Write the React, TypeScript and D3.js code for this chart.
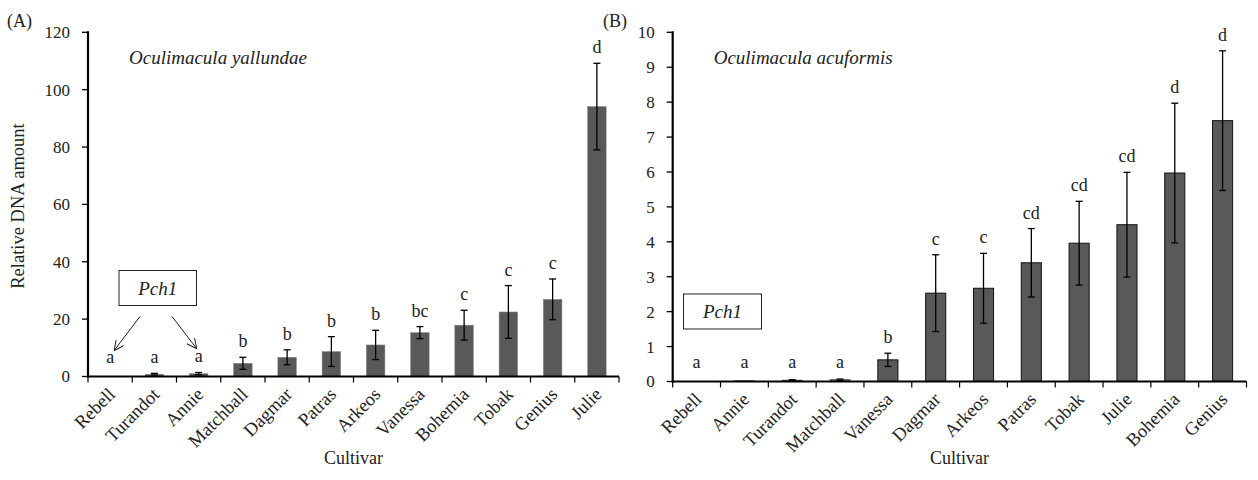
import React from "react";
import * as d3 from "d3";

// Panel A: Oculimacula yallundae
const cultivarsA = ["Rebell", "Turandot", "Annie", "Matchball", "Dagmar", "Patras", "Arkeos", "Vanessa", "Bohemia", "Tobak", "Genius", "Julie"];
const valuesA = [0, 0.8, 1.0, 4.6, 6.7, 8.7, 11.0, 15.3, 17.9, 22.5, 26.9, 94.1];
const errorsA = [0, 0.3, 0.4, 2.1, 2.6, 5.2, 5.1, 2.1, 5.2, 9.2, 7.1, 15.1];
const lettersA = ["a", "a", "a", "b", "b", "b", "b", "bc", "c", "c", "c", "d"];
const ticksA = [0, 20, 40, 60, 80, 100, 120];

// Panel B: Oculimacula acuformis
const cultivarsB = ["Rebell", "Annie", "Turandot", "Matchball", "Vanessa", "Dagmar", "Arkeos", "Patras", "Tobak", "Julie", "Bohemia", "Genius"];
const valuesB = [0, 0.02, 0.04, 0.05, 0.62, 2.53, 2.67, 3.4, 3.96, 4.49, 5.97, 7.47];
const errorsB = [0, 0, 0.01, 0.02, 0.19, 1.1, 1.0, 0.98, 1.2, 1.5, 2.0, 2.0];
const lettersB = ["a", "a", "a", "a", "b", "c", "c", "cd", "cd", "cd", "d", "d"];
const ticksB = [0, 1, 2, 3, 4, 5, 6, 7, 8, 9, 10];

const FONT = "Liberation Serif, DejaVu Serif, serif";
const BAR = "#595959";

type PanelProps = {
  cats: string[];
  vals: number[];
  errs: number[];
  letters: string[];
  ticks: number[];
  x0: number;
  x1: number;
  yTop: number;
  yBot: number;
  tag: string;
  tagX: number;
  title: string;
  outline: boolean;
  box: { x: number; y: number; w: number; h: number };
  arrows?: boolean;
};

const Panel = (p: PanelProps) => {
  const x = d3.scaleBand().domain(p.cats).range([p.x0, p.x1]).paddingInner(0.58).paddingOuter(0.29);
  const y = d3
    .scaleLinear()
    .domain([0, d3.max(p.ticks) as number])
    .range([p.yBot, p.yTop]);
  const step = x.step();
  const cx = (c: string) => (x(c) as number) + x.bandwidth() / 2;

  return (
    <g fill="#222">
      <text x={p.tagX} y={27} fontSize={18}>{p.tag}</text>

      {/* y ticks */}
      {p.ticks.map((t) => (
        <g key={t}>
          <line x1={p.x0 - 6} x2={p.x0} y1={y(t)} y2={y(t)} stroke="#000" strokeWidth={1.3} />
          <text x={p.x0 - 18} y={y(t)} dy="0.35em" textAnchor="end" fontSize={17}>{t}</text>
        </g>
      ))}

      {/* x ticks */}
      {d3.range(p.cats.length + 1).map((i) => (
        <line key={i} x1={p.x0 + i * step} x2={p.x0 + i * step} y1={p.yBot} y2={p.yBot + 6} stroke="#000" strokeWidth={1.2} />
      ))}

      {/* bars */}
      {p.cats.map((c, i) => {
        const v = p.vals[i];
        const h = p.yBot - y(v);
        return (
          <rect
            key={c}
            x={x(c)}
            y={y(v)}
            width={x.bandwidth()}
            height={h}
            fill={BAR}
            stroke={p.outline ? "#111" : "#8a8a8a"}
            strokeWidth={p.outline && h > 2 ? 1 : 0.5}
          />
        );
      })}

      {/* error bars */}
      {p.cats.map((c, i) => {
        const e = p.errs[i];
        if (e <= 0) return null;
        const top = y(p.vals[i] + e);
        const bot = y(Math.max(0, p.vals[i] - e));
        const xc = cx(c);
        return (
          <g key={c} stroke="#000" strokeWidth={1.3}>
            <line x1={xc} x2={xc} y1={top} y2={bot} />
            <line x1={xc - 3.5} x2={xc + 3.5} y1={top} y2={top} />
            <line x1={xc - 3.5} x2={xc + 3.5} y1={bot} y2={bot} />
          </g>
        );
      })}

      {/* significance letters */}
      {p.cats.map((c, i) => {
        const top = Math.min(y(p.vals[i] + p.errs[i]), p.yBot - 4);
        return (
          <text key={c} x={cx(c)} y={top - 10} textAnchor="middle" fontSize={18}>
            {p.letters[i]}
          </text>
        );
      })}

      {/* axes */}
      <line x1={p.x0} x2={p.x0} y1={p.yTop - 1} y2={p.yBot + 1} stroke="#000" strokeWidth={2.2} />
      <line x1={p.x0 - 1} x2={p.x1} y1={p.yBot} y2={p.yBot} stroke="#000" strokeWidth={2.2} />

      {/* category labels */}
      {p.cats.map((c) => (
        <text
          key={c}
          transform={`translate(${cx(c) + 6},${p.yBot + 19}) rotate(-45)`}
          textAnchor="end"
          fontSize={18.5}
        >
          {c}
        </text>
      ))}

      <text x={(p.x0 + p.x1) / 2} y={464} textAnchor="middle" fontSize={18}>Cultivar</text>

      <text x={p.x0 + 41} y={64} fontSize={19} fontStyle="italic">{p.title}</text>

      {/* Pch1 box */}
      <rect x={p.box.x} y={p.box.y} width={p.box.w} height={p.box.h} fill="#fff" stroke="#222" strokeWidth={1} />
      <text x={p.box.x + p.box.w / 2} y={p.box.y + p.box.h / 2} dy="0.35em" textAnchor="middle" fontSize={19} fontStyle="italic">Pch1</text>

      {p.arrows && (
        <g stroke="#222" strokeWidth={1} fill="none">
          <line x1={140} y1={316.5} x2={cx(p.cats[0]) + 4} y2={350.5} markerEnd="url(#arrow)" />
          <line x1={172} y1={316.5} x2={cx(p.cats[2]) - 2} y2={348.5} markerEnd="url(#arrow)" />
        </g>
      )}
    </g>
  );
};

export default function App() {
  return (
    <svg
      width={1258}
      height={480}
      fontFamily={FONT}
      style={{ position: "absolute", left: 0, top: 0, background: "#fff" }}
    >
      <defs>
        <marker id="arrow" viewBox="0 0 10 10" refX={10} refY={5} markerWidth={10} markerHeight={10} orient="auto" markerUnits="userSpaceOnUse">
          <path d="M0,0 L10,5 L0,10" fill="none" stroke="#222" strokeWidth={1} />
        </marker>
      </defs>
      <text transform="translate(24,206) rotate(-90)" textAnchor="middle" fontSize={18.5} fill="#222">
        Relative DNA amount
      </text>
      <Panel
        cats={cultivarsA}
        vals={valuesA}
        errs={errorsA}
        letters={lettersA}
        ticks={ticksA}
        x0={88}
        x1={619}
        yTop={32.3}
        yBot={376.5}
        tag="(A)"
        tagX={7}
        title="Oculimacula yallundae"
        outline={false}
        box={{ x: 119, y: 270.5, w: 77.5, h: 35 }}
        arrows
      />
      <Panel
        cats={cultivarsB}
        vals={valuesB}
        errs={errorsB}
        letters={lettersB}
        ticks={ticksB}
        x0={672.7}
        x1={1246.5}
        yTop={32.3}
        yBot={381.5}
        tag="(B)"
        tagX={603}
        title="Oculimacula acuformis"
        outline={true}
        box={{ x: 683.5, y: 294, w: 78, h: 35 }}
      />
    </svg>
  );
}
